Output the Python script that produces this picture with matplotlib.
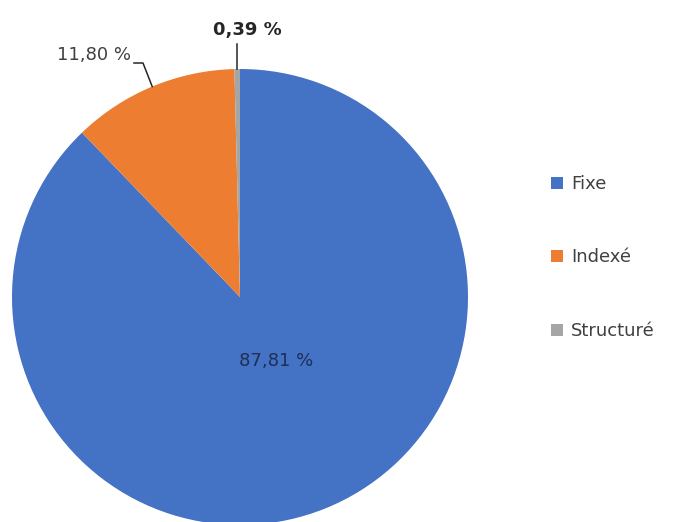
import numpy as np
import matplotlib
matplotlib.use("Agg")
import matplotlib.pyplot as plt
from matplotlib.patches import Rectangle

categories = ["Fixe", "Indexé", "Structuré"]
values = [87.81, 11.80, 0.39]
colors = ["#4472C4", "#ED7D31", "#A5A5A5"]

plt.rcParams["font.family"] = ["DejaVu Sans"]

W, H = 673, 522
CX, CY, R = 240, 297, 228          # centre / rayon du camembert en pixels
TXT = "#404040"


def px(x, y):
    """pixel (origine en haut a gauche) -> coordonnees data (rayon = 1)."""
    return (x - CX) / R, (CY - y) / R


def fmt(v):
    return f"{v:.2f}".replace(".", ",") + " %"


fig = plt.figure(figsize=(W / 100, H / 100), dpi=100, facecolor="white")
ax = fig.add_axes([0, 0, 1, 1])

wedges, _ = ax.pie(values, colors=colors, startangle=90, counterclock=False,
                   radius=1, center=(0, 0), frame=True)
ax.set_xlim(-CX / R, (W - CX) / R)
ax.set_ylim(-(H - CY) / R, CY / R)
ax.axis("off")


def edge(w):
    a = np.deg2rad((w.theta1 + w.theta2) / 2)
    return np.cos(a), np.sin(a)


# etiquette de la grande part
ax.text(*px(276, 361), fmt(values[0]), ha="center", va="center",
        fontsize=13, color="#1F2F55")

# 11,80 % avec ligne coudee
ex, ey = edge(wedges[1])
lx, ly = px(143, 63)
ax.plot([px(134, 63)[0], lx, ex], [ly, ly, ey], color="#262626", lw=1.1)
ax.text(*px(131, 55), fmt(values[1]), ha="right", va="center",
        fontsize=13, color=TXT)

# 0,39 % avec ligne verticale
ex, ey = edge(wedges[2])
ax.plot([ex, ex], [ey, px(0, 44)[1]], color="#262626", lw=1.1)
ax.text(*px(247, 30), fmt(values[2]), ha="center", va="center",
        fontsize=13, fontweight="bold", color="#262626")

# legende
for i, (name, c) in enumerate(zip(categories, colors)):
    y = 183 + i * 73.5
    x0, y0 = px(551, y + 6)
    ax.add_patch(Rectangle((x0, y0), 12 / R, 12 / R, facecolor=c,
                           edgecolor="none"))
    ax.text(*px(571, y + 1), name, ha="left", va="center", fontsize=13,
            color=TXT)

fig.savefig("out.png", dpi=100, facecolor="white")
